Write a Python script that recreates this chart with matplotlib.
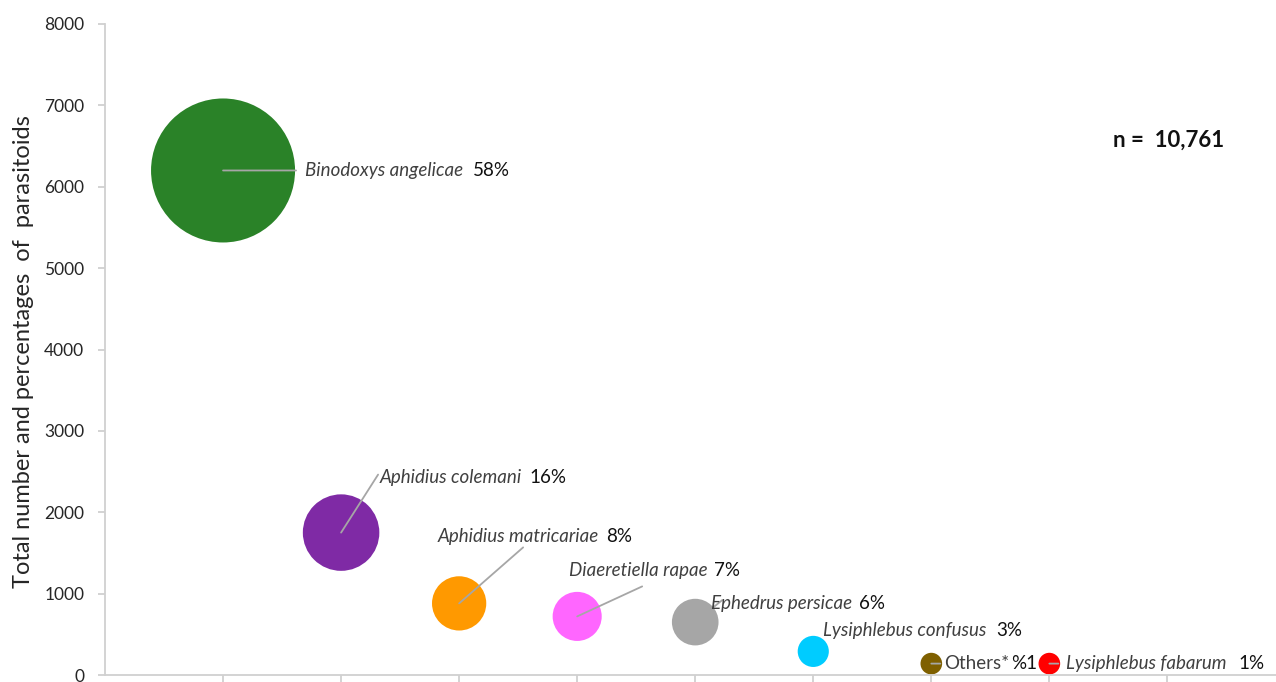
import numpy as np
import matplotlib
matplotlib.use("Agg")
import matplotlib.pyplot as plt

plt.rcParams['font.family'] = ['Lato', 'DejaVu Sans']

# data
species = ["Binodoxys angelicae", "Aphidius colemani", "Aphidius matricariae",
           "Diaeretiella rapae", "Ephedrus persicae", "Lysiphlebus confusus",
           "Others*", "Lysiphlebus fabarum"]
xpos = [1, 2, 3, 4, 5, 6, 7, 8]
counts = [6200, 1750, 880, 720, 650, 290, 140, 140]
percents = ["58%", "16%", "8%", "7%", "6%", "3%", "%1", "1%"]
colors = ["#2a8228", "#7f2aa5", "#ff9900", "#ff66ff", "#a6a6a6",
          "#00ccff", "#7f6000", "#ff0000"]
italic = [True, True, True, True, True, True, False, True]

# label placement (pixel offsets from bubble centre) and leader line ends
label_off = [(82, 0), (39, 55), (-22, 67), (-8, 46), (16, 19), (10, 21), (13, 0), (17, 0)]
line_end = [(73, 0), (37, 58), (64, 56), (65, 30), (27, 22), None, (9, 0), (9, 0)]
pct_gap = [10, 7, 8, 6, 7, 10, 2, 12]

size_scale = 1.734  # points^2 per parasitoid (bubble area ~ count)

fig = plt.figure(figsize=(12.76, 6.82), dpi=100)
ax = fig.add_axes([105 / 1276, 1 - 675 / 682, 1 - 105 / 1276, (675 - 24) / 682])

sizes = np.array(counts) * size_scale
ax.scatter(xpos, counts, s=sizes, c=colors, edgecolors='none', zorder=2)

ax.set_xlim(0, 9.92)
ax.set_ylim(0, 8000)
ax.set_yticks(np.arange(0, 8001, 1000))
ax.set_xticks(np.arange(1, 10))
ax.set_xticklabels([])
for side in ['top', 'right']:
    ax.spines[side].set_visible(False)
for side in ['left', 'bottom']:
    ax.spines[side].set_color('#d0d0d0')
    ax.spines[side].set_linewidth(1.3)
ax.tick_params(axis='both', direction='out', length=5, width=1.3, color='#d0d0d0')
ax.tick_params(axis='y', labelsize=12.5, labelcolor='#262626', pad=10)

fig.text(24 / 1276, 1 - 352 / 682, "Total number and percentages  of  parasitoids",
         rotation=90, ha='center', va='center', fontsize=17, color='#262626')
fig.text(1113 / 1276, 1 - 140 / 682, "n =  10,761", fontsize=16,
         fontweight='bold', ha='left', va='center', color='#111111')

name_texts = []
for i in range(len(species)):
    r_pt = np.sqrt(sizes[i]) / 2
    if line_end[i] is not None:
        shrink = r_pt if species[i] == "Ephedrus persicae" else 0
        ax.annotate("", xy=(xpos[i], counts[i]), xytext=line_end[i],
                    textcoords='offset pixels',
                    arrowprops=dict(arrowstyle='-', color='#a6a6a6', lw=1.3,
                                    shrinkA=0, shrinkB=shrink), zorder=3)
    t = ax.annotate(species[i], xy=(xpos[i], counts[i]), xytext=label_off[i],
                    textcoords='offset pixels', ha='left', va='center',
                    fontsize=13.5, color='#404040',
                    style='italic' if italic[i] else 'normal', zorder=4)
    name_texts.append(t)

fig.canvas.draw()
renderer = fig.canvas.get_renderer()
for i, t in enumerate(name_texts):
    bb = t.get_window_extent(renderer)
    fig.text((bb.x1 + pct_gap[i]) / 1276, (bb.y0 + bb.y1) / 2 / 682, percents[i],
             ha='left', va='center', fontsize=13.5, color='#111111')

fig.savefig("out.png", dpi=100)
